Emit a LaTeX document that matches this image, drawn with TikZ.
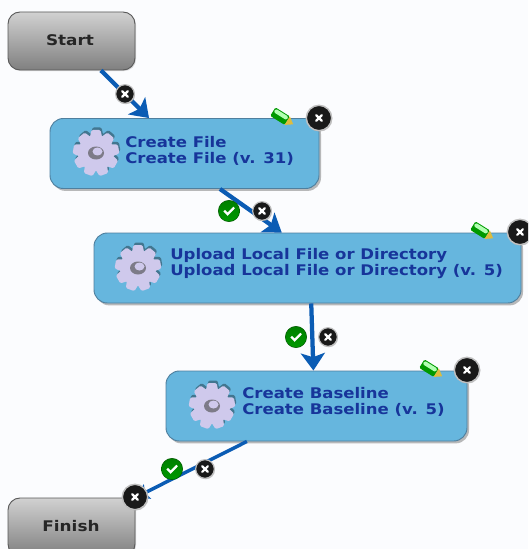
\documentclass[tikz,border=0pt]{standalone}
\usepackage{fontspec}
\setmainfont{DejaVu Sans}
\usetikzlibrary{positioning, arrows.meta, shadows}
\definecolor{stepblue}{HTML}{66B6DE}
\definecolor{stepedge}{HTML}{4F7F9E}
\definecolor{linkblue}{HTML}{0B5CB4}
\definecolor{textblue}{HTML}{17359A}
\definecolor{gearlilac}{HTML}{CFC9EC}
\definecolor{pagetint}{HTML}{FBFCFE}
\tikzset{
  stepbox/.style={draw=stepedge, line width=0.7pt, fill=stepblue, rounded corners=10pt, inner sep=0pt, minimum height=52.5pt,
    drop shadow={shadow xshift=1.5pt, shadow yshift=-1.8pt, opacity=0.45, fill=black!60}},
  endbox/.style={draw=black!65, line width=0.7pt, top color=black!18, bottom color=black!50, rounded corners=9pt, inner sep=0pt, minimum width=95.25pt, minimum height=43.5pt,
    drop shadow={shadow xshift=0.8pt, shadow yshift=-0.8pt, opacity=0.3}},
  steptext/.style={anchor=west, align=left, inner sep=0pt, text=textblue, font=\bfseries\fontsize{11}{12}\selectfont\addfontfeature{FakeStretch=1.127}},
  endtext/.style={inner sep=0pt, text=black!85, font=\bfseries\fontsize{11}{12}\selectfont\addfontfeature{FakeStretch=1.15}},
  link/.style={draw=linkblue, line width=3.2pt, -{Stealth[length=13pt, width=18pt, inset=3pt]}},
  crossbig/.style={crossmark, minimum size=19pt, line width=1.1pt},
  crosssmall/.style={crossmark, minimum size=14pt, line width=0.9pt},
  crossmark/.style={circle, inner sep=0pt, fill=black!90, draw=black!25,
    drop shadow={shadow xshift=0.5pt, shadow yshift=-0.7pt, opacity=0.4},
    path picture={\draw[white, line width=1.6pt, line cap=round]
      ([xshift=-2.2pt,yshift=-2.2pt]path picture bounding box.center) -- ([xshift=2.2pt,yshift=2.2pt]path picture bounding box.center)
      ([xshift=-2.2pt,yshift=2.2pt]path picture bounding box.center) -- ([xshift=2.2pt,yshift=-2.2pt]path picture bounding box.center);}},
  checkmark/.style={circle, inner sep=0pt, minimum size=16pt, top color=green!50!black, bottom color=green!60!black, draw=green!35!black, line width=0.4pt,
    path picture={\draw[white, line width=1.7pt]
      ([xshift=-3.6pt,yshift=0.2pt]path picture bounding box.center) -- ([xshift=-1pt,yshift=-2.4pt]path picture bounding box.center) -- ([xshift=3.8pt,yshift=2.6pt]path picture bounding box.center);}},
  gear/.pic={
    \foreach \toothcol/\dx/\dy in {black!35!stepblue/1/2.5, gearlilac/0/0}{
      \begin{scope}[shift={(\dx,\dy)}]
        \fill[\toothcol] (0,0) circle (18);
        \foreach \a in {0,40,...,320}
          \fill[\toothcol, rotate=\a+20, rounded corners=1pt] (-4.5,-23) -- (4.5,-23) -- (6.5,-14) -- (-6.5,-14) -- cycle;
      \end{scope}
    }
    \fill[gearlilac!45!black!80] (0,0) ellipse (8 and 6.5);
    \fill[gearlilac] (1.5,1.5) ellipse (5 and 4);
  },
  pencil/.pic={
    \fill[green!60!black, rotate=-32, rounded corners=1pt] (-12,-5) rectangle (5,5);
    \fill[green!30!white, rotate=-32, rounded corners=1pt] (-11,0) rectangle (4,4);
    \fill[yellow!45!brown, rotate=-32] (5,-5) -- (12,0) -- (5,5) -- cycle;
  },
}
\begin{document}
\begin{tikzpicture}[x=0.75pt,y=0.75pt,yscale=-1,xscale=1]
\useasboundingbox (0,0) rectangle (528,549);
\clip (0,0) rectangle (528,549);
\fill[pagetint] (0,0) rectangle (528,549);

% Step boxes
\node [endbox] (start) at (71.5,41) {};
\node [stepbox, minimum width=201.75pt] (createfile) at (184.5,153.5) {};
\node [stepbox, minimum width=320.25pt] (upload) at (307.5,268) {};
\node [stepbox, minimum width=225.75pt] (baseline) at (316.5,406) {};
\node [endbox] (finish) at (71.5,527) {};

% Links
\draw [link] (start.-45.5) -- (createfile.135.8);
\draw [link] (createfile.-45) -- (upload.126.1);
\draw [link] (upload.-84.3) -- (baseline.95.7);
\draw [link, line width=2.6pt, -{Stealth[length=10pt, width=12pt, inset=2pt]}] (baseline.-153.6) -- (finish.north east);

% Text
\node [endtext] (starttext) at (70,40) {Start};
\node [endtext] (finishtext) at (71,526) {Finish};
\node [steptext] (createfiletext) at (125,150.5) {Create File\\Create File (v. 31)};
\node [steptext] (uploadtext) at (170,263.5) {Upload Local File or Directory\\Upload Local File or Directory (v. 5)};
\node [steptext] (baselinetext) at (242,402) {Create Baseline\\Create Baseline (v. 5)};

% Gears
\pic at (96,153) {gear};
\pic at (138,268) {gear};
\pic at (212,406) {gear};

% Pencils
\pic at (283,118) {pencil};
\pic at (483,232) {pencil};
\pic at (432,370) {pencil};

% Badges
\node [crossbig] (closecreate) at (319,118) {};
\node [crossbig] (closeupload) at (520,232) {};
\node [crossbig] (closebaseline) at (467,370) {};
\node [crossbig] (closefinish) at (135,497) {};
\node [crosssmall] (dropstart) at (125,94) {};
\node [crosssmall] (dropcreate) at (262,211) {};
\node [crosssmall] (dropupload) at (328,337) {};
\node [crosssmall] (dropbaseline) at (205,469) {};
\node [checkmark] (okcreate) at (229,211) {};
\node [checkmark] (okupload) at (296,337) {};
\node [checkmark] (okbaseline) at (172,469) {};
\end{tikzpicture}
\end{document}
